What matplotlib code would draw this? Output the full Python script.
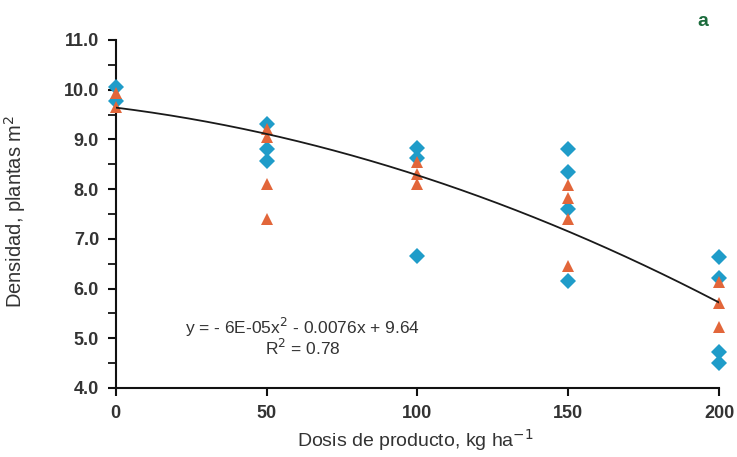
import numpy as np
import matplotlib.pyplot as plt
from matplotlib.ticker import MultipleLocator

plt.rcParams['font.family'] = ['Liberation Sans', 'DejaVu Sans']

dosis_diamante = [0, 0, 50, 50, 50, 100, 100, 100, 150, 150, 150, 150, 200, 200, 200, 200]
dens_diamante = [10.05, 9.78, 9.32, 8.8, 8.57, 8.82, 8.62, 6.65, 8.8, 8.35, 7.6, 6.16, 6.63, 6.21, 4.72, 4.5]

dosis_triangulo = [0, 0, 50, 50, 50, 50, 100, 100, 100, 150, 150, 150, 150, 200, 200, 200]
dens_triangulo = [9.93, 9.66, 9.2, 9.05, 8.1, 7.4, 8.55, 8.3, 8.1, 8.08, 7.82, 7.4, 6.45, 6.14, 5.71, 5.22]

# fitted quadratic printed on the chart
coef = [-6e-05, -0.0076, 9.64]
ecuacion = "y = - 6E-05x$^{2}$ - 0.0076x + 9.64"
r2_texto = "R$^{2}$ = 0.78"

azul = '#1f9cc9'
naranja = '#e2663a'

fig = plt.figure(figsize=(7.37, 4.57), dpi=100)
ax = fig.add_axes([0.157, 0.151, 0.8186, 0.7615])

ax.plot(dosis_diamante, dens_diamante, linestyle='none', marker='D', markersize=7.8,
        color=azul, markeredgewidth=0, clip_on=False, zorder=3)
ax.plot(dosis_triangulo, dens_triangulo, linestyle='none', marker='^', markersize=8.5,
        color=naranja, markeredgewidth=0, clip_on=False, zorder=4)

xs = np.linspace(0, 200, 200)
ax.plot(xs, np.polyval(coef, xs), color='#1a1a1a', linewidth=1.3, zorder=5)

ax.set_xlim(0, 200)
ax.set_ylim(4.0, 11.0)
ax.set_xticks([0, 50, 100, 150, 200])
ax.yaxis.set_major_locator(MultipleLocator(1.0))
ax.yaxis.set_minor_locator(MultipleLocator(0.5))
ax.yaxis.set_major_formatter(plt.FormatStrFormatter('%.1f'))

for s in ['top', 'right']:
    ax.spines[s].set_visible(False)
for s in ['left', 'bottom']:
    ax.spines[s].set_linewidth(1.5)
    ax.spines[s].set_color('#111111')

ax.tick_params(axis='both', which='major', direction='out', length=6, width=1.5,
               labelsize=13, colors='#111111', pad=6)
ax.tick_params(axis='y', which='minor', direction='out', length=6, width=1.2)
for lbl in ax.get_xticklabels() + ax.get_yticklabels():
    lbl.set_fontweight('bold')
    lbl.set_color('#333333')

ax.set_xlabel("Dosis de producto, kg ha$^{-1}$", fontsize=14, color='#333333')
ax.xaxis.set_label_coords(0.4975, -0.112)
ax.set_ylabel("Densidad, plantas m$^{2}$", fontsize=14.5, color='#333333')
ax.yaxis.set_label_coords(-0.146, 0.506)

ax.text(62, 5.22, ecuacion, ha='center', va='center', fontsize=12.5, color='#333333')
ax.text(62, 4.8, r2_texto, ha='center', va='center', fontsize=12.5, color='#333333')

fig.text(0.954, 0.952, 'a', ha='center', va='center', fontsize=14, fontweight='bold',
         color='#1b6b3c')

fig.savefig('out.png', dpi=100)
